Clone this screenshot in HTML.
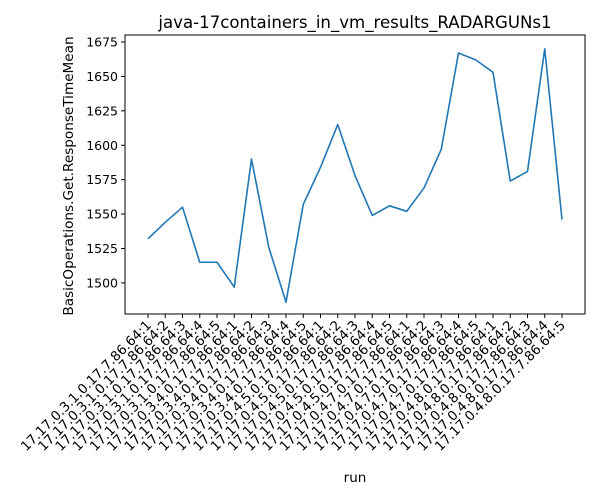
<!DOCTYPE html>
<html><head><meta charset="utf-8"><style>
body{margin:0;background:#fff}
svg{display:block;font-family:"DejaVu Sans","Liberation Sans",sans-serif}
</style></head><body>
<svg id="chart" width="600" height="500" xmlns="http://www.w3.org/2000/svg">
<rect width="600" height="500" fill="#fff"/>
<text x="355" y="28" text-anchor="middle" font-size="16.6">java-17containers_in_vm_results_RADARGUNs1</text>
<g id="yticks"></g>
<g id="xticks"></g>
<path id="line" fill="none" stroke="#1f77b4" stroke-width="1.6" stroke-linejoin="round"/>
<rect x="125" y="35" width="460" height="279" fill="none" stroke="#000" stroke-width="1"/>
<text x="355" y="482" text-anchor="middle" font-size="13.5">run</text>
<text transform="translate(73,176) rotate(-90)" text-anchor="middle" font-size="13.6">BasicOperations.Get.ResponseTimeMean</text>
</svg>
<script>
const groups = ["3.1","3.4","4.5","4.7","4.8"];
const categories = [];
groups.forEach(g => { for (let k = 1; k <= 5; k++) categories.push("17.17.0." + g + ".0.17.7.86.64:" + k); });
const values = [1532,1544,1555,1515,1515,1497,1590,1526,1486,1557,1584,1615,1578,1549,1556,1552,1569,1597,1667,1662,1653,1574,1581,1670,1546];
const yTicks = [1500,1525,1550,1575,1600,1625,1650,1675];

const NS = "http://www.w3.org/2000/svg";
const L = 125, R = 585, T = 35, B = 314;
const yMin = 1477.4, yMax = 1680.1;
const xs = i => L + 23 + i * (R - L - 46) / (categories.length - 1);
const ys = v => B - (v - yMin) / (yMax - yMin) * (B - T);

const yg = document.getElementById("yticks");
yTicks.forEach(t => {
  const y = ys(t);
  const ln = document.createElementNS(NS, "line");
  ln.setAttribute("x1", L - 4); ln.setAttribute("x2", L); ln.setAttribute("y1", y); ln.setAttribute("y2", y);
  ln.setAttribute("stroke", "#000");
  
  
  yg.appendChild(ln);
  const tx = document.createElementNS(NS, "text");
  tx.setAttribute("x", L - 7); tx.setAttribute("y", y + 4.5);
  tx.setAttribute("text-anchor", "end"); tx.setAttribute("font-size", "12.5");
  tx.textContent = t;
  
  
  yg.appendChild(tx);
});

const xg = document.getElementById("xticks");
categories.forEach((c, i) => {
  const x = xs(i);
  const ln = document.createElementNS(NS, "line");
  ln.setAttribute("x1", x); ln.setAttribute("x2", x); ln.setAttribute("y1", B); ln.setAttribute("y2", B + 4);
  ln.setAttribute("stroke", "#000");
  
  
  xg.appendChild(ln);
  const tx = document.createElementNS(NS, "text");
  tx.setAttribute("transform", "translate(" + (x + 4) + "," + (B + 12) + ") rotate(-45)");
  tx.setAttribute("text-anchor", "end"); tx.setAttribute("font-size", "13.3");
  tx.textContent = c;
  
  
  xg.appendChild(tx);
});

document.getElementById("line").setAttribute("d",
  values.map((v, i) => (i ? "L" : "M") + xs(i).toFixed(2) + "," + ys(v).toFixed(2)).join(" "));
</script>
</body></html>
